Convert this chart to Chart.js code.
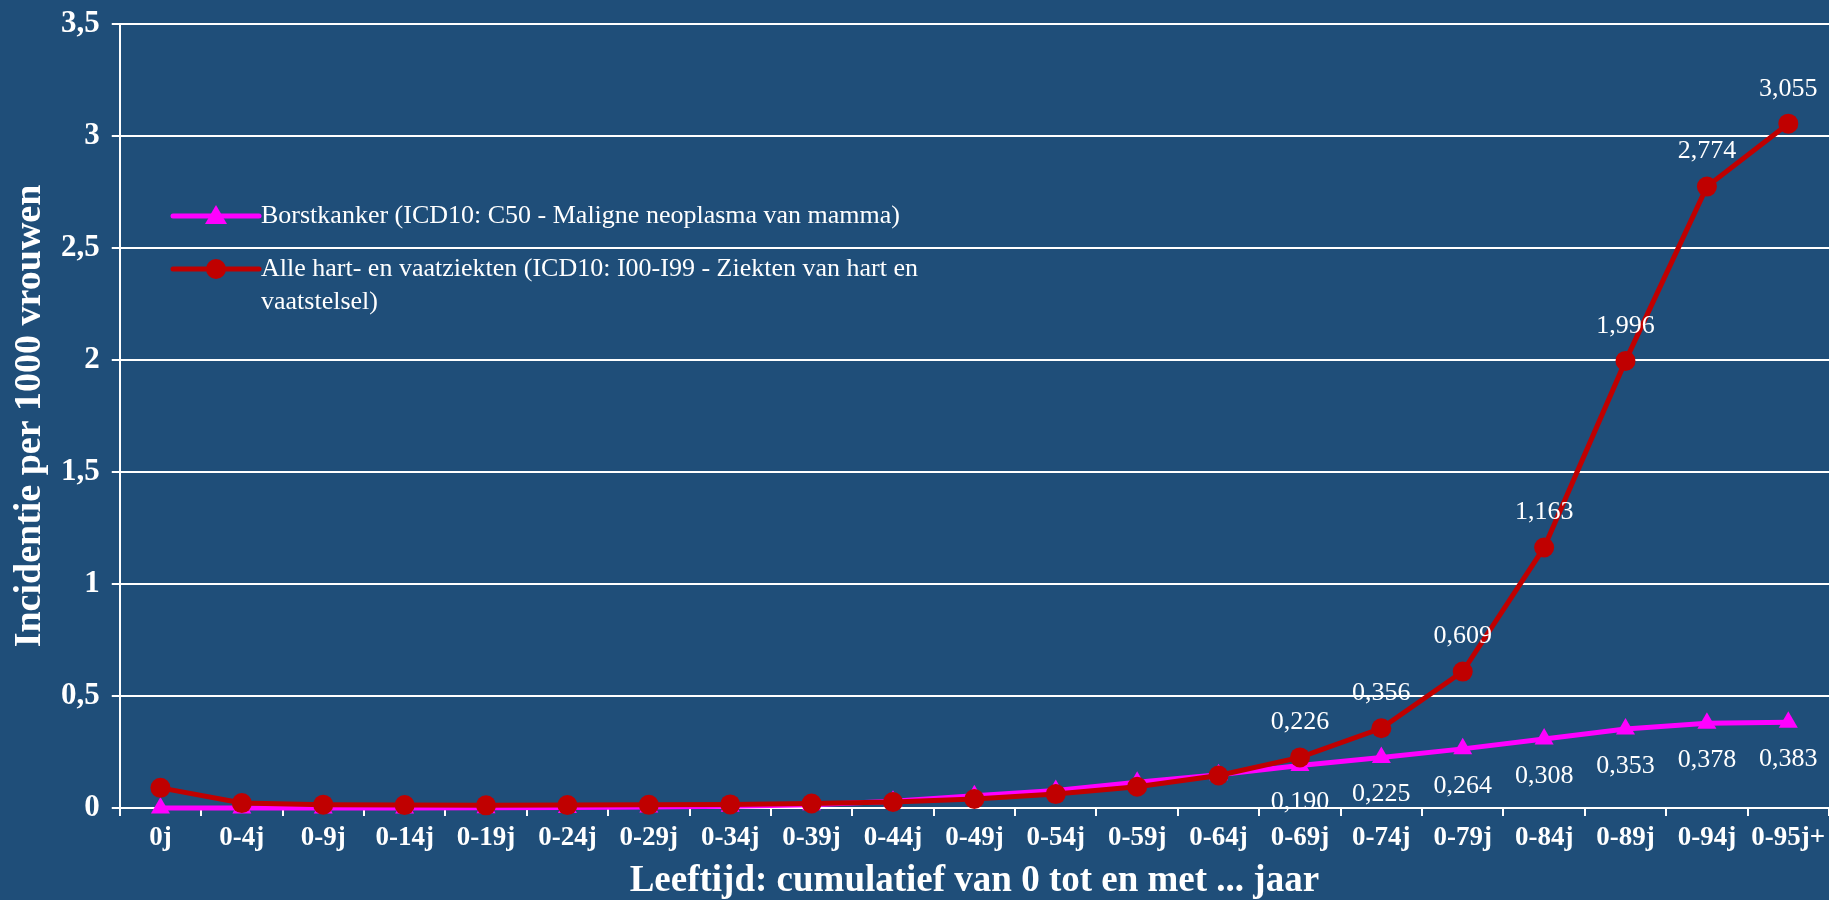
<!DOCTYPE html>
<html>
<head>
<meta charset="utf-8">
<script src="https://cdn.jsdelivr.net/npm/chart.js@4.4.1/dist/chart.umd.min.js"></script>
<style>
  html, body { margin: 0; padding: 0; background: #1f4e79; }
  #wrap { width: 1829px; height: 900px; }
</style>
</head>
<body>
<div id="wrap"><canvas id="chart" width="1829" height="900"></canvas></div>
<script>
// data
const ages = ['0j', '0-4j', '0-9j', '0-14j', '0-19j', '0-24j', '0-29j', '0-34j', '0-39j', '0-44j',
  '0-49j', '0-54j', '0-59j', '0-64j', '0-69j', '0-74j', '0-79j', '0-84j', '0-89j', '0-94j', '0-95j+'];
// incidentie per 1000 vrouwen
const borstkanker = [0.000, 0.000, 0.000, 0.000, 0.001, 0.002, 0.004, 0.008, 0.015, 0.030,
  0.055, 0.078, 0.115, 0.148, 0.190, 0.225, 0.264, 0.308, 0.353, 0.378, 0.383];
const hartvaat = [0.090, 0.022, 0.015, 0.013, 0.012, 0.013, 0.014, 0.016, 0.020, 0.027,
  0.040, 0.062, 0.095, 0.145, 0.226, 0.356, 0.609, 1.163, 1.996, 2.774, 3.055];
const yticks = [0, 0.5, 1, 1.5, 2, 2.5, 3, 3.5];
// value labels only shown from 0-69j on
const first_label = 14;

const legend_items = [
  { lines: ['Borstkanker (ICD10: C50 - Maligne neoplasma van mamma)'], color: '#ff00ff', marker: 'triangle' },
  { lines: ['Alle hart- en vaatziekten (ICD10: I00-I99 - Ziekten van hart en', 'vaatstelsel)'], color: '#c00000', marker: 'circle' }
];

const serif = '"Liberation Serif", "Times New Roman", serif';

function fmt(v, d) {
  return v.toFixed(d).replace('.', ',');
}

// value labels above (red) / below (pink) the points
const value_labels = {
  id: 'value_labels',
  afterDatasetsDraw(chart) {
    const ctx = chart.ctx;
    ctx.save();
    ctx.font = '26px ' + serif;
    ctx.fillStyle = '#ffffff';
    ctx.textAlign = 'center';
    ctx.textBaseline = 'middle';
    chart.data.datasets.forEach((ds, di) => {
      const meta = chart.getDatasetMeta(di);
      meta.data.forEach((pt, i) => {
        if (i < first_label) return;
        const dy = ds.label_below ? 37 : -35;
        ctx.fillText(fmt(ds.data[i], 3), pt.x, pt.y + dy);
      });
    });
    ctx.restore();
  }
};

// legend inside the plot, top left
const inner_legend = {
  id: 'inner_legend',
  afterDraw(chart) {
    const ctx = chart.ctx;
    const x0 = 173, x1 = 259;
    let y = 216;
    ctx.save();
    ctx.font = '26px ' + serif;
    ctx.textBaseline = 'middle';
    ctx.textAlign = 'left';
    legend_items.forEach(it => {
      ctx.strokeStyle = it.color;
      ctx.fillStyle = it.color;
      ctx.lineWidth = 5;
      ctx.lineCap = 'round';
      ctx.beginPath();
      ctx.moveTo(x0, y);
      ctx.lineTo(x1, y);
      ctx.stroke();
      const cx = (x0 + x1) / 2;
      ctx.beginPath();
      if (it.marker === 'circle') {
        ctx.arc(cx, y, 10, 0, Math.PI * 2);
      } else {
        ctx.moveTo(cx, y - 11);
        ctx.lineTo(cx + 11, y + 8);
        ctx.lineTo(cx - 11, y + 8);
        ctx.closePath();
      }
      ctx.fill();
      ctx.fillStyle = '#ffffff';
      it.lines.forEach((ln, k) => {
        ctx.fillText(ln, x1 + 2, y + k * 33);
      });
      y += 53;
    });
    ctx.restore();
  }
};

const data = {
  labels: ages,
  datasets: [
    {
      label: 'Alle hart- en vaatziekten (ICD10: I00-I99 - Ziekten van hart en vaatstelsel)',
      data: hartvaat,
      borderColor: '#c00000',
      backgroundColor: '#c00000',
      borderWidth: 5,
      pointStyle: 'circle',
      pointRadius: 10,
      pointBorderWidth: 0,
      tension: 0,
      clip: false
    },
    {
      label: 'Borstkanker (ICD10: C50 - Maligne neoplasma van mamma)',
      data: borstkanker,
      borderColor: '#ff00ff',
      backgroundColor: '#ff00ff',
      borderWidth: 5,
      pointStyle: 'triangle',
      pointRadius: 11,
      pointBorderWidth: 0,
      tension: 0,
      clip: false,
      label_below: true
    }
  ]
};

const config = {
  type: 'line',
  data: data,
  options: {
    responsive: false,
    animation: false,
    layout: {
      autoPadding: false,
      padding: { top: 24, right: 0, left: 11, bottom: 0 }
    },
    plugins: {
      legend: { display: false },
      tooltip: { enabled: false }
    },
    scales: {
      x: {
        offset: true,
        // let the plot run to the right edge
        afterFit(scale) {
          scale.paddingRight = 0;
        },
        grid: {
          offset: true,
          drawOnChartArea: false,
          color: '#ffffff',
          lineWidth: 2,
          tickLength: 8
        },
        border: { color: '#ffffff', width: 2 },
        ticks: {
          color: '#ffffff',
          font: { family: serif, size: 27, weight: 'bold' },
          maxRotation: 0,
          autoSkip: false,
          padding: 6
        },
        title: {
          display: true,
          text: 'Leeftijd: cumulatief van 0 tot en met ... jaar',
          color: '#ffffff',
          font: { family: serif, size: 37, weight: 'bold', lineHeight: 0.8 },
          padding: { top: 6, bottom: 4 }
        }
      },
      y: {
        min: 0,
        max: 3.5,
        afterBuildTicks(axis) {
          axis.ticks = yticks.map(v => ({ value: v }));
        },
        afterFit(scale) {
          scale.paddingTop = 0;
        },
        grid: {
          color: '#ffffff',
          lineWidth: 2,
          tickLength: 8
        },
        border: { color: '#ffffff', width: 2 },
        ticks: {
          color: '#ffffff',
          font: { family: serif, size: 31, weight: 'bold' },
          padding: 12,
          callback: v => String(v).replace('.', ',')
        },
        title: {
          display: true,
          text: 'Incidentie per 1000 vrouwen',
          color: '#ffffff',
          font: { family: serif, size: 38, weight: 'bold', lineHeight: 1 },
          padding: { top: 0, bottom: 0 }
        }
      }
    }
  },
  plugins: [value_labels, inner_legend]
};

var chart = null;
document.addEventListener('DOMContentLoaded', () => {
  chart = new Chart(document.getElementById('chart'), config);
});
</script>
</body>
</html>
